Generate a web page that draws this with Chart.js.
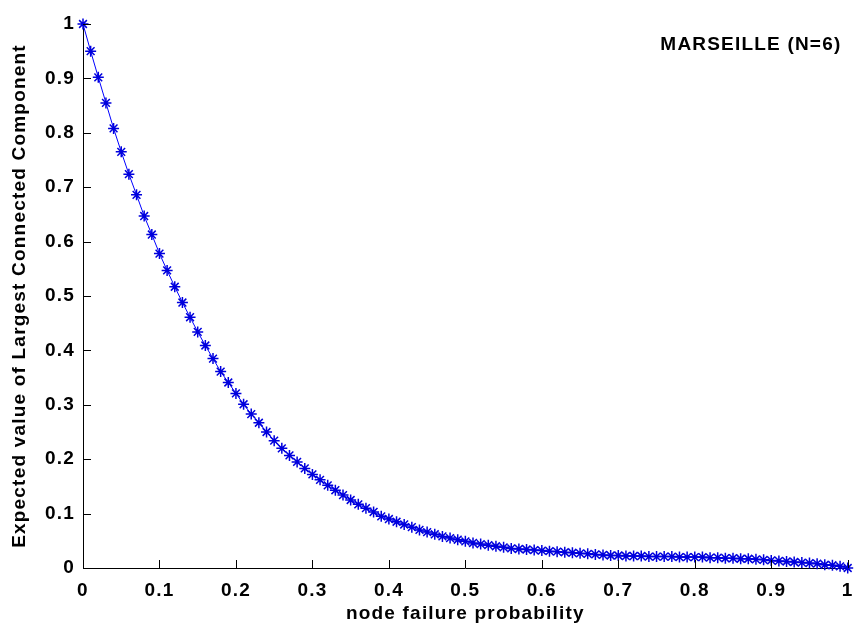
<!DOCTYPE html>
<html>
<head>
<meta charset="utf-8">
<title>MARSEILLE (N=6)</title>
<script src="https://cdn.jsdelivr.net/npm/chart.js@4/dist/chart.umd.min.js"></script>
<style>
  html, body { margin: 0; padding: 0; background: #ffffff; }
  #wrap { width: 864px; height: 627px; position: relative; }
</style>
</head>
<body>
<div id="wrap"><canvas id="chart"></canvas></div>
<script>
// node failure probability, 0 .. 1 in steps of 0.01
const failureProb = [
  0.00, 0.01, 0.02, 0.03, 0.04, 0.05, 0.06, 0.07, 0.08, 0.09,
  0.10, 0.11, 0.12, 0.13, 0.14, 0.15, 0.16, 0.17, 0.18, 0.19,
  0.20, 0.21, 0.22, 0.23, 0.24, 0.25, 0.26, 0.27, 0.28, 0.29,
  0.30, 0.31, 0.32, 0.33, 0.34, 0.35, 0.36, 0.37, 0.38, 0.39,
  0.40, 0.41, 0.42, 0.43, 0.44, 0.45, 0.46, 0.47, 0.48, 0.49,
  0.50, 0.51, 0.52, 0.53, 0.54, 0.55, 0.56, 0.57, 0.58, 0.59,
  0.60, 0.61, 0.62, 0.63, 0.64, 0.65, 0.66, 0.67, 0.68, 0.69,
  0.70, 0.71, 0.72, 0.73, 0.74, 0.75, 0.76, 0.77, 0.78, 0.79,
  0.80, 0.81, 0.82, 0.83, 0.84, 0.85, 0.86, 0.87, 0.88, 0.89,
  0.90, 0.91, 0.92, 0.93, 0.94, 0.95, 0.96, 0.97, 0.98, 0.99,
  1.00
];

// expected (normalised) size of the largest connected component
const expectedLCC = [
  1.000, 0.950, 0.902, 0.855, 0.808, 0.765, 0.724, 0.686, 0.647, 0.613,
  0.578, 0.547, 0.517, 0.488, 0.461, 0.434, 0.409, 0.385, 0.361, 0.341,
  0.321, 0.301, 0.283, 0.267, 0.250, 0.234, 0.220, 0.207, 0.195, 0.183,
  0.172, 0.162, 0.152, 0.143, 0.134, 0.125, 0.117, 0.110, 0.103, 0.095,
  0.090, 0.085, 0.080, 0.075, 0.070, 0.066, 0.062, 0.058, 0.055, 0.052,
  0.049, 0.046, 0.044, 0.042, 0.040, 0.038, 0.036, 0.035, 0.034, 0.033,
  0.032, 0.031, 0.030, 0.029, 0.028, 0.027, 0.026, 0.025, 0.024, 0.023,
  0.023, 0.022, 0.022, 0.022, 0.021, 0.021, 0.021, 0.021, 0.020, 0.020,
  0.020, 0.020, 0.019, 0.019, 0.018, 0.018, 0.017, 0.017, 0.016, 0.015,
  0.014, 0.013, 0.012, 0.011, 0.010, 0.009, 0.008, 0.006, 0.005, 0.003,
  0.000
];

const xTicks = [0, 0.1, 0.2, 0.3, 0.4, 0.5, 0.6, 0.7, 0.8, 0.9, 1];
const yTicks = [0, 0.1, 0.2, 0.3, 0.4, 0.5, 0.6, 0.7, 0.8, 0.9, 1];

const plotTitle = 'MARSEILLE (N=6)';
const xTitle = 'node failure probability';
const yTitle = 'Expected value of Largest Connected Component';

const FONT_FAMILY = '"Liberation Sans", Arial, Helvetica, sans-serif';
const FONT_SIZE = 19;
const LETTER_SPACING = '1.2px';

// slightly spaced text like the plotting tool's default font
const spacingPlugin = {
  id: 'spacing',
  beforeDraw(chart) { chart.ctx.letterSpacing = LETTER_SPACING; },
  afterDraw(chart) { chart.ctx.letterSpacing = '0px'; }
};

// tick marks pointing into the plot area
const inwardTicks = {
  id: 'inwardTicks',
  afterDatasetsDraw(chart) {
    const { ctx, chartArea, scales } = chart;
    const len = 8;
    ctx.save();
    ctx.strokeStyle = '#000000';
    ctx.lineWidth = 1;
    ctx.beginPath();
    xTicks.forEach(v => {
      const px = Math.round(scales.x.getPixelForValue(v)) + 0.5;
      ctx.moveTo(px, chartArea.bottom);
      ctx.lineTo(px, chartArea.bottom - len);
    });
    yTicks.forEach(v => {
      const py = Math.round(scales.y.getPixelForValue(v)) + 0.5;
      ctx.moveTo(chartArea.left, py);
      ctx.lineTo(chartArea.left + len, py);
    });
    ctx.stroke();
    ctx.restore();
  }
};

// text annotation in the upper right of the axes
const annotation = {
  id: 'annotation',
  afterDraw(chart) {
    const { ctx, scales } = chart;
    ctx.save();
    ctx.letterSpacing = LETTER_SPACING;
    ctx.font = 'bold ' + FONT_SIZE + 'px ' + FONT_FAMILY;
    ctx.fillStyle = '#000000';
    ctx.textAlign = 'left';
    ctx.textBaseline = 'middle';
    ctx.fillText(plotTitle, scales.x.getPixelForValue(0.755), scales.y.getPixelForValue(0.961));
    ctx.restore();
  }
};

const points = failureProb.map((x, i) => ({ x: x, y: expectedLCC[i] }));
const axisFont = { family: FONT_FAMILY, size: FONT_SIZE, weight: 'bold' };

new Chart(document.getElementById('chart'), {
  type: 'line',
  data: {
    datasets: [{
      data: points,
      borderColor: '#0000ff',
      backgroundColor: '#0000ff',
      borderWidth: 1,
      pointStyle: 'star',
      pointRadius: 5.5,
      pointBorderWidth: 1.5,
      pointBorderColor: '#0000dd',
      pointHoverRadius: 5.5,
      tension: 0,
      fill: false,
      clip: false
    }]
  },
  options: {
    responsive: true,
    maintainAspectRatio: false,
    animation: false,
    events: [],
    layout: { padding: { left: 0, right: 12, top: 24, bottom: 0 } },
    plugins: {
      legend: { display: false },
      tooltip: { enabled: false }
    },
    scales: {
      x: {
        type: 'linear',
        min: 0,
        max: 1,
        afterBuildTicks(scale) { scale.ticks = xTicks.map(v => ({ value: v })); },
        afterFit(scale) { scale.height = 59; },
        grid: { display: false, drawTicks: false },
        border: { display: true, color: '#000000', width: 1 },
        ticks: {
          color: '#000000',
          padding: 11,
          maxRotation: 0,
          font: axisFont,
          callback: v => String(Math.round(v * 10) / 10)
        },
        title: {
          display: true,
          text: xTitle,
          color: '#000000',
          font: axisFont,
          padding: { top: 0, bottom: 2 }
        }
      },
      y: {
        type: 'linear',
        min: 0,
        max: 1,
        afterBuildTicks(scale) { scale.ticks = yTicks.map(v => ({ value: v })); },
        afterFit(scale) { scale.width = 83; },
        grid: { display: false, drawTicks: false },
        border: { display: true, color: '#000000', width: 1 },
        ticks: {
          color: '#000000',
          padding: 8,
          font: axisFont,
          callback: v => String(Math.round(v * 10) / 10)
        },
        title: {
          display: true,
          text: yTitle,
          color: '#000000',
          font: axisFont,
          padding: { top: 8, bottom: 0 }
        }
      }
    }
  },
  plugins: [spacingPlugin, inwardTicks, annotation]
});
</script>
</body>
</html>
